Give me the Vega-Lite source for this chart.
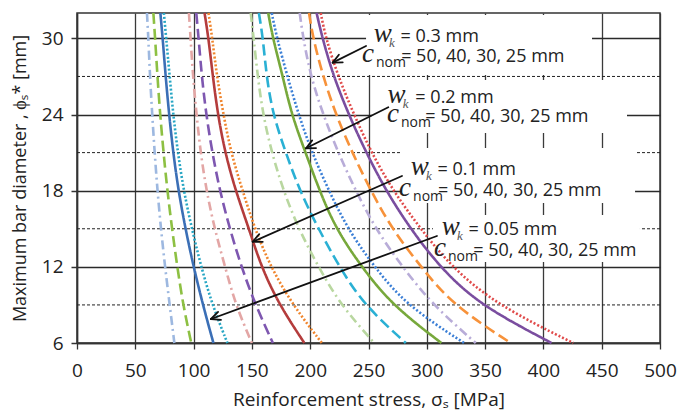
{
  "$schema": "https://vega.github.io/schema/vega-lite/v6.json",
  "width": 583,
  "height": 330,
  "autosize": {"type": "none"},
  "padding": {"left": 77, "top": 13, "right": 18, "bottom": 71},
  "background": "white",
  "config": {
    "view": {"stroke": "#333333", "strokeWidth": 1.5},
    "font": "Open Sans"
  },
  "datasets": {
    "curves": [
      {"s":"a50","c":"50","x":60,"y":32},{"s":"a50","c":"50","x":61.2,"y":30},{"s":"a50","c":"50","x":62.6,"y":27},{"s":"a50","c":"50","x":64.5,"y":24},{"s":"a50","c":"50","x":66.6,"y":21},{"s":"a50","c":"50","x":69,"y":18},{"s":"a50","c":"50","x":72,"y":15},{"s":"a50","c":"50","x":75.5,"y":12},{"s":"a50","c":"50","x":79.5,"y":9},{"s":"a50","c":"50","x":83.5,"y":6},
      {"s":"a40","c":"40","x":65.5,"y":32},{"s":"a40","c":"40","x":67,"y":30},{"s":"a40","c":"40","x":69,"y":27},{"s":"a40","c":"40","x":71.3,"y":24},{"s":"a40","c":"40","x":74.2,"y":21},{"s":"a40","c":"40","x":77.5,"y":18},{"s":"a40","c":"40","x":81.5,"y":15},{"s":"a40","c":"40","x":86,"y":12},{"s":"a40","c":"40","x":91,"y":9},{"s":"a40","c":"40","x":98,"y":6},
      {"s":"a30","c":"30","x":71.5,"y":32},{"s":"a30","c":"30","x":73.5,"y":30},{"s":"a30","c":"30","x":76,"y":27},{"s":"a30","c":"30","x":79,"y":24},{"s":"a30","c":"30","x":82.5,"y":21},{"s":"a30","c":"30","x":87,"y":18},{"s":"a30","c":"30","x":93,"y":15},{"s":"a30","c":"30","x":100,"y":12},{"s":"a30","c":"30","x":108,"y":9},{"s":"a30","c":"30","x":117,"y":6},
      {"s":"a25","c":"25","x":74.5,"y":32},{"s":"a25","c":"25","x":76.5,"y":30},{"s":"a25","c":"25","x":79.5,"y":27},{"s":"a25","c":"25","x":82.5,"y":24},{"s":"a25","c":"25","x":86.5,"y":21},{"s":"a25","c":"25","x":91.5,"y":18},{"s":"a25","c":"25","x":98.5,"y":15},{"s":"a25","c":"25","x":106.5,"y":12},{"s":"a25","c":"25","x":116,"y":9},{"s":"a25","c":"25","x":129,"y":6},
      {"s":"b50","c":"50","x":96,"y":32},{"s":"b50","c":"50","x":97.4,"y":30},{"s":"b50","c":"50","x":99.5,"y":27},{"s":"b50","c":"50","x":102.5,"y":24},{"s":"b50","c":"50","x":106,"y":21},{"s":"b50","c":"50","x":111,"y":18},{"s":"b50","c":"50","x":118,"y":15},{"s":"b50","c":"50","x":127,"y":12},{"s":"b50","c":"50","x":136,"y":9},{"s":"b50","c":"50","x":150,"y":6},
      {"s":"b40","c":"40","x":102.3,"y":32},{"s":"b40","c":"40","x":104.3,"y":30},{"s":"b40","c":"40","x":107,"y":27},{"s":"b40","c":"40","x":110.8,"y":24},{"s":"b40","c":"40","x":116,"y":21},{"s":"b40","c":"40","x":122.5,"y":18},{"s":"b40","c":"40","x":131,"y":15},{"s":"b40","c":"40","x":141,"y":12},{"s":"b40","c":"40","x":153,"y":9},{"s":"b40","c":"40","x":168,"y":6},
      {"s":"b30","c":"30","x":109.4,"y":32},{"s":"b30","c":"30","x":112.8,"y":30},{"s":"b30","c":"30","x":116.5,"y":27},{"s":"b30","c":"30","x":120.8,"y":24},{"s":"b30","c":"30","x":127,"y":21},{"s":"b30","c":"30","x":136,"y":18},{"s":"b30","c":"30","x":147.5,"y":15},{"s":"b30","c":"30","x":158,"y":12},{"s":"b30","c":"30","x":173.5,"y":9},{"s":"b30","c":"30","x":195,"y":6},
      {"s":"b25","c":"25","x":112.8,"y":32},{"s":"b25","c":"25","x":116,"y":30},{"s":"b25","c":"25","x":120,"y":27},{"s":"b25","c":"25","x":125.6,"y":24},{"s":"b25","c":"25","x":132,"y":21},{"s":"b25","c":"25","x":142,"y":18},{"s":"b25","c":"25","x":152.5,"y":15},{"s":"b25","c":"25","x":166,"y":12},{"s":"b25","c":"25","x":185,"y":9},{"s":"b25","c":"25","x":210,"y":6},
      {"s":"c50","c":"50","x":149,"y":32},{"s":"c50","c":"50","x":151.5,"y":30},{"s":"c50","c":"50","x":155,"y":27},{"s":"c50","c":"50","x":159.5,"y":24},{"s":"c50","c":"50","x":167,"y":21},{"s":"c50","c":"50","x":177,"y":18},{"s":"c50","c":"50","x":190,"y":15},{"s":"c50","c":"50","x":207,"y":12},{"s":"c50","c":"50","x":226,"y":9},{"s":"c50","c":"50","x":255,"y":6},
      {"s":"c40","c":"40","x":156,"y":32},{"s":"c40","c":"40","x":159.5,"y":30},{"s":"c40","c":"40","x":162.5,"y":27},{"s":"c40","c":"40","x":168,"y":24},{"s":"c40","c":"40","x":179,"y":21},{"s":"c40","c":"40","x":191,"y":18},{"s":"c40","c":"40","x":207,"y":15},{"s":"c40","c":"40","x":225,"y":12},{"s":"c40","c":"40","x":246,"y":9},{"s":"c40","c":"40","x":282,"y":6},
      {"s":"c30","c":"30","x":164,"y":32},{"s":"c30","c":"30","x":168,"y":30},{"s":"c30","c":"30","x":176.5,"y":27},{"s":"c30","c":"30","x":184,"y":24},{"s":"c30","c":"30","x":196,"y":21},{"s":"c30","c":"30","x":208,"y":18},{"s":"c30","c":"30","x":222,"y":15},{"s":"c30","c":"30","x":244,"y":12},{"s":"c30","c":"30","x":270,"y":9},{"s":"c30","c":"30","x":312.5,"y":6},
      {"s":"c25","c":"25","x":167,"y":32},{"s":"c25","c":"25","x":171.5,"y":30},{"s":"c25","c":"25","x":180.5,"y":27},{"s":"c25","c":"25","x":190,"y":24},{"s":"c25","c":"25","x":201.5,"y":21},{"s":"c25","c":"25","x":216,"y":18},{"s":"c25","c":"25","x":232,"y":15},{"s":"c25","c":"25","x":255,"y":12},{"s":"c25","c":"25","x":282,"y":9},{"s":"c25","c":"25","x":332,"y":6},
      {"s":"d50","c":"50","x":191,"y":32},{"s":"d50","c":"50","x":194,"y":30},{"s":"d50","c":"50","x":200.5,"y":27},{"s":"d50","c":"50","x":211,"y":24},{"s":"d50","c":"50","x":224,"y":21},{"s":"d50","c":"50","x":239,"y":18},{"s":"d50","c":"50","x":256,"y":15},{"s":"d50","c":"50","x":279,"y":12},{"s":"d50","c":"50","x":305,"y":9},{"s":"d50","c":"50","x":342,"y":6},
      {"s":"d40","c":"40","x":199,"y":32},{"s":"d40","c":"40","x":202.5,"y":30},{"s":"d40","c":"40","x":211,"y":27},{"s":"d40","c":"40","x":222,"y":24},{"s":"d40","c":"40","x":236,"y":21},{"s":"d40","c":"40","x":252,"y":18},{"s":"d40","c":"40","x":270,"y":15},{"s":"d40","c":"40","x":295,"y":12},{"s":"d40","c":"40","x":322,"y":9},{"s":"d40","c":"40","x":372,"y":6},
      {"s":"d30","c":"30","x":205.5,"y":32},{"s":"d30","c":"30","x":210.5,"y":30},{"s":"d30","c":"30","x":220,"y":27},{"s":"d30","c":"30","x":233,"y":24},{"s":"d30","c":"30","x":248,"y":21},{"s":"d30","c":"30","x":265,"y":18},{"s":"d30","c":"30","x":286,"y":15},{"s":"d30","c":"30","x":311,"y":12},{"s":"d30","c":"30","x":345,"y":9},{"s":"d30","c":"30","x":407,"y":6},
      {"s":"d25","c":"25","x":209,"y":32},{"s":"d25","c":"25","x":213.4,"y":30},{"s":"d25","c":"25","x":224,"y":27},{"s":"d25","c":"25","x":237.5,"y":24},{"s":"d25","c":"25","x":252.5,"y":21},{"s":"d25","c":"25","x":271,"y":18},{"s":"d25","c":"25","x":294.6,"y":15},{"s":"d25","c":"25","x":321,"y":12},{"s":"d25","c":"25","x":360,"y":9},{"s":"d25","c":"25","x":425.6,"y":6}
    ],
    "dashed": [
      {"x":0,"x2":500,"y":9},{"x":0,"x2":500,"y":15},{"x":0,"x2":500,"y":21},{"x":0,"x2":500,"y":27}
    ],
    "boxes": [
      {"x":247.9,"x2":441.7,"y":27.12,"y2":31.85},
      {"x":253,"x2":471.7,"y":22.55,"y2":26.72},
      {"x":278.7,"x2":478.6,"y":17.03,"y2":21.37},
      {"x":305.3,"x2":482.8,"y":12.38,"y2":16.09}
    ],
    "segs": [
      {"x":247.9,"y":29.40,"x2":219.3,"y2":28.09},
      {"x":219.3,"y":28.09,"x2":227.9,"y2":28.11},
      {"x":219.3,"y":28.09,"x2":224.6,"y2":28.71},
      {"x":267.0,"y":24.57,"x2":196.4,"y2":21.34},
      {"x":196.4,"y":21.34,"x2":205.0,"y2":21.36},
      {"x":196.4,"y":21.34,"x2":201.7,"y2":21.96},
      {"x":278.7,"y":19.16,"x2":150.7,"y2":13.98},
      {"x":150.7,"y":13.98,"x2":159.3,"y2":13.97},
      {"x":150.7,"y":13.98,"x2":156.3,"y2":14.58},
      {"x":308.7,"y":14.43,"x2":114.9,"y2":7.89},
      {"x":114.9,"y":7.89,"x2":123.5,"y2":7.82},
      {"x":114.9,"y":7.89,"x2":121.0,"y2":8.45}
    ],
    "labels": [
      {"k":"w","t":"w","x":254.5,"y":29.72},
      {"k":"k","t":"k","x":267.6,"y":29.33},
      {"k":"txt","t":"= 0.3 mm","x":277.5,"y":29.72},
      {"k":"w","t":"c","x":244.5,"y":28.14},
      {"k":"nom","t":"nom","x":256.4,"y":27.75},
      {"k":"txt","t":"= 50, 40, 30, 25 mm","x":278,"y":28.14},
      {"k":"w","t":"w","x":266.3,"y":24.91},
      {"k":"k","t":"k","x":279.4,"y":24.52},
      {"k":"txt","t":"= 0.2 mm","x":290.2,"y":24.91},
      {"k":"w","t":"c","x":265.9,"y":23.42},
      {"k":"nom","t":"nom","x":277.8,"y":23.02},
      {"k":"txt","t":"= 50, 40, 30, 25 mm","x":298.6,"y":23.42},
      {"k":"w","t":"w","x":286.2,"y":19.24},
      {"k":"k","t":"k","x":299.3,"y":18.84},
      {"k":"txt","t":"= 0.1 mm","x":309.2,"y":19.24},
      {"k":"w","t":"c","x":276.2,"y":17.58},
      {"k":"nom","t":"nom","x":288.2,"y":17.19},
      {"k":"txt","t":"= 50, 40, 30, 25 mm","x":309.7,"y":17.58},
      {"k":"w","t":"w","x":312.8,"y":14.51},
      {"k":"k","t":"k","x":325.9,"y":14.12},
      {"k":"txt","t":"= 0.05 mm","x":335.8,"y":14.51},
      {"k":"w","t":"c","x":306.2,"y":12.86},
      {"k":"nom","t":"nom","x":318.2,"y":12.46},
      {"k":"txt","t":"= 50, 40, 30, 25 mm","x":339.8,"y":12.86}
    ]
  },
  "encoding": {
    "x": {
      "field": "x", "type": "quantitative",
      "scale": {"domain": [0, 500], "nice": false, "zero": false},
      "axis": {
        "values": [0, 50, 100, 150, 200, 250, 300, 350, 400, 450, 500],
        "labelFlush": false, "labelOverlap": false,
        "grid": true, "gridColor": "#3a3a3a", "gridWidth": 1.3,
        "domainColor": "#333333", "domainWidth": 1.5,
        "tickColor": "#333333", "tickWidth": 1.3, "tickSize": 6,
        "labelFont": "Open Sans", "labelFontSize": 19, "labelColor": "#222222", "labelPadding": 12,
        "title": "Reinforcement stress, σₛ [MPa]",
        "titleFont": "Open Sans", "titleFontSize": 19, "titleFontWeight": "normal", "titleColor": "#222222", "titlePadding": 10
      }
    },
    "y": {
      "field": "y", "type": "quantitative",
      "scale": {"domain": [6, 32], "nice": false, "zero": false},
      "axis": {
        "values": [6, 12, 18, 24, 30],
        "labelFlush": false, "labelOverlap": false,
        "grid": true, "gridColor": "#2a2a2a", "gridWidth": 1.5,
        "domainColor": "#333333", "domainWidth": 1.5,
        "tickColor": "#333333", "tickWidth": 1.5, "tickSize": 6,
        "labelFont": "Open Sans", "labelFontSize": 19, "labelColor": "#222222", "labelPadding": 8,
        "title": "Maximum bar diameter , ϕₛ* [mm]",
        "titleFont": "Open Sans", "titleFontSize": 18, "titleFontWeight": "normal", "titleColor": "#222222", "titlePadding": 12
      }
    }
  },
  "layer": [
    {
      "data": {"name": "dashed"},
      "mark": {"type": "rule", "color": "#222222", "strokeWidth": 1, "strokeDash": [3, 2]},
      "encoding": {"x2": {"field": "x2"}}
    },
    {
      "data": {"name": "boxes"},
      "mark": {"type": "rect", "fill": "white", "stroke": null},
      "encoding": {"x2": {"field": "x2"}, "y2": {"field": "y2"}}
    },
    {
      "data": {"name": "curves"},
      "mark": {"type": "line", "strokeWidth": 2.6, "interpolate": "basis", "strokeCap": "butt"},
      "encoding": {
        "color": {
          "field": "s", "type": "nominal", "legend": null,
          "scale": {
            "domain": ["a50","a40","a30","a25","b50","b40","b30","b25","c50","c40","c30","c25","d50","d40","d30","d25"],
            "range": ["#9db8e0","#8dc043","#3b6fb6","#27a6c4","#e3a6a5","#7e57b0","#b43c3c","#f0852d","#b9d7a0","#2ab0d4","#77a83b","#3b7fd6","#b8acd8","#f7923a","#7a4d9f","#e04b4b"]
          }
        },
        "strokeDash": {
          "field": "c", "type": "nominal", "legend": null,
          "scale": {"domain": ["50","40","30","25"], "range": [[9,4,2,4],[11,5],[1,0],[2,2]]}
        }
      }
    },
    {
      "data": {"name": "segs"},
      "mark": {"type": "rule", "color": "#111111", "strokeWidth": 1.8, "strokeCap": "round"},
      "encoding": {"x2": {"field": "x2"}, "y2": {"field": "y2"}}
    },
    {
      "data": {"name": "labels"},
      "transform": [{"filter": "datum.k === 'w'"}],
      "mark": {"type": "text", "font": "Liberation Serif", "fontStyle": "italic", "fontSize": 27, "align": "left", "baseline": "alphabetic", "color": "#222222"},
      "encoding": {"text": {"field": "t"}}
    },
    {
      "data": {"name": "labels"},
      "transform": [{"filter": "datum.k === 'k'"}],
      "mark": {"type": "text", "font": "Liberation Serif", "fontStyle": "italic", "fontSize": 13, "align": "left", "baseline": "alphabetic", "color": "#555555"},
      "encoding": {"text": {"field": "t"}}
    },
    {
      "data": {"name": "labels"},
      "transform": [{"filter": "datum.k === 'nom'"}],
      "mark": {"type": "text", "font": "Open Sans", "fontSize": 14, "align": "left", "baseline": "alphabetic", "color": "#222222"},
      "encoding": {"text": {"field": "t"}}
    },
    {
      "data": {"name": "labels"},
      "transform": [{"filter": "datum.k === 'txt'"}],
      "mark": {"type": "text", "font": "Open Sans", "fontSize": 18, "align": "left", "baseline": "alphabetic", "color": "#222222"},
      "encoding": {"text": {"field": "t"}}
    }
  ]
}
